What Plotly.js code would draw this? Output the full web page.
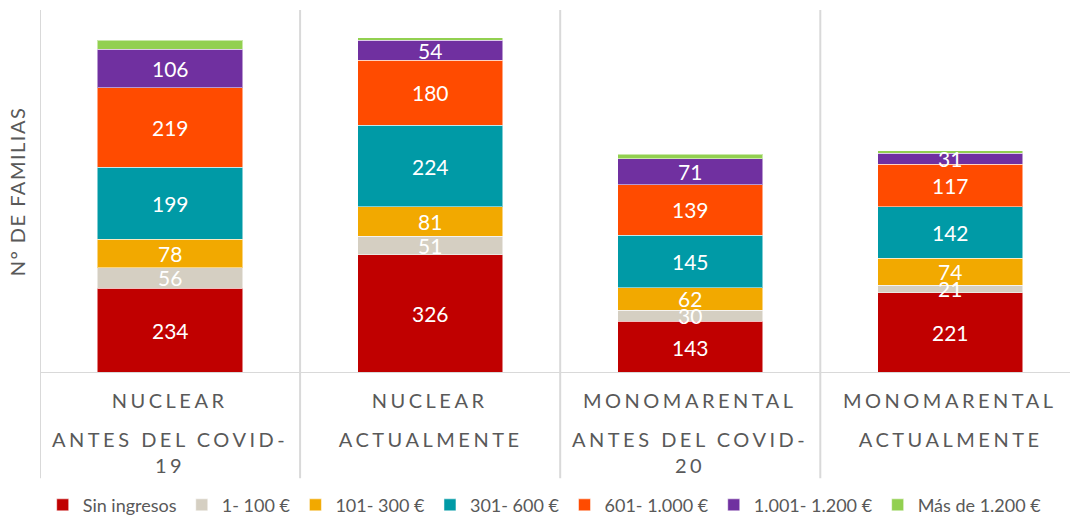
<!DOCTYPE html>
<html><head><meta charset="utf-8">
<script src="https://cdn.plot.ly/plotly-3.0.1.min.js"></script>
<style>html,body{margin:0;padding:0;background:#fff}#chart{width:1070px;height:525px}</style>
</head><body><div id="chart"></div>
<script>
const categories = ["NUCLEAR ANTES DEL COVID-19", "NUCLEAR ACTUALMENTE", "MONOMARENTAL ANTES DEL COVID-20", "MONOMARENTAL ACTUALMENTE"];
const groupLabels = ["NUCLEAR", "NUCLEAR", "MONOMARENTAL", "MONOMARENTAL"];
const periodLabels = ["ANTES DEL COVID-<br>19", "ACTUALMENTE", "ANTES DEL COVID-<br>20", "ACTUALMENTE"];
const seriesNames = ["Sin ingresos", "1- 100 €", "101- 300 €", "301- 600 €", "601- 1.000 €", "1.001- 1.200 €", "Más de 1.200 €"];
const sinIngresos = [234, 326, 143, 221];
const r1a100 = [56, 51, 30, 21];
const r101a300 = [78, 81, 62, 74];
const r301a600 = [199, 224, 145, 142];
const r601a1000 = [219, 180, 139, 117];
const r1001a1200 = [106, 54, 71, 31];
const masDe1200 = [25, 8, 12, 6];
const showLabel = [true, true, true, true, true, true, false];
const yAxisTitle = "N° DE FAMILIAS";

const series = [sinIngresos, r1a100, r101a300, r301a600, r601a1000, r1001a1200, masDe1200];
const colors = ["#c00000", "#d5cfc2", "#f2a900", "#009aa6", "#ff4b00", "#7030a0", "#92d050"];
const FONT = "Lato, 'Open Sans', sans-serif";
const GREY = "#595959";

const traces = series.map((vals, i) => ({
  type: "bar", name: seriesNames[i], x: categories, y: vals,
  marker: {color: colors[i], line: {color: "rgba(255,255,255,0.5)", width: 1}},
  hoverinfo: "name+y"
}));

const annotations = [];
const base = categories.map(() => 0);
series.forEach((vals, i) => {
  vals.forEach((v, j) => {
    if (showLabel[i]) {
      annotations.push({x: categories[j], y: base[j] + v / 2, xref: "x", yref: "y",
        text: String(v), showarrow: false, font: {family: FONT, size: 21, color: "#ffffff"},
        xanchor: "center", yanchor: "middle"});
    }
    base[j] += v;
  });
});
const nValueAnn = annotations.length;
categories.forEach((c, j) => {
  annotations.push({x: c, y: 0, xref: "x", yref: "paper", text: groupLabels[j], showarrow: false,
    font: {family: FONT, size: 20, color: GREY}, xanchor: "center", yanchor: "middle", yshift: -27});
  annotations.push({x: c, y: 0, xref: "x", yref: "paper", text: periodLabels[j], showarrow: false,
    font: {family: FONT, size: 20, color: GREY}, xanchor: "center", yanchor: "top", yshift: -52});
});

const shapes = [];
[-0.5, 0.5, 1.5, 2.5].forEach(x => shapes.push({type: "line", xref: "x", yref: "paper",
  x0: x, x1: x, y0: -0.29, y1: 1, line: {color: "#d9d9d9", width: 2}, layer: "below"}));
shapes.push({type: "line", xref: "paper", yref: "y", x0: 0, x1: 1, y0: 0, y1: 0,
  line: {color: "#d9d9d9", width: 2}, layer: "above"});

const layout = {
  width: 1070, height: 525,
  margin: {l: 40, r: 0, t: 10, b: 152},
  barmode: "stack", bargap: 0.442,
  paper_bgcolor: "#ffffff", plot_bgcolor: "#ffffff",
  font: {family: FONT, color: GREY},
  xaxis: {range: [-0.5, 3.46], showticklabels: false, showgrid: false, zeroline: false, showline: false, ticks: "", fixedrange: true},
  yaxis: {range: [0, 1000], showticklabels: false, showgrid: false, zeroline: false, showline: false, ticks: "",
    title: {text: yAxisTitle, font: {family: FONT, size: 20, color: GREY}, standoff: 8}},
  showlegend: true,
  legend: {orientation: "h", x: 0.49, xanchor: "center", y: -0.364, yanchor: "middle",
    font: {family: FONT, size: 18, color: GREY}, traceorder: "normal", itemwidth: 30},
  annotations: annotations, shapes: shapes
};

Plotly.newPlot("chart", traces, layout, {displayModeBar: false, staticPlot: true}).then(() => {
  document.querySelectorAll("#chart g.annotation").forEach(g => {
    const i = +g.getAttribute("data-index");
    if (i >= nValueAnn) {
      const t = g.querySelector("text");
      if (t) t.style.letterSpacing = "3.5px";
    }
  });
  const yt = document.querySelector("#chart .ytitle");
  if (yt) yt.style.letterSpacing = "1.5px";
});
</script></body></html>
